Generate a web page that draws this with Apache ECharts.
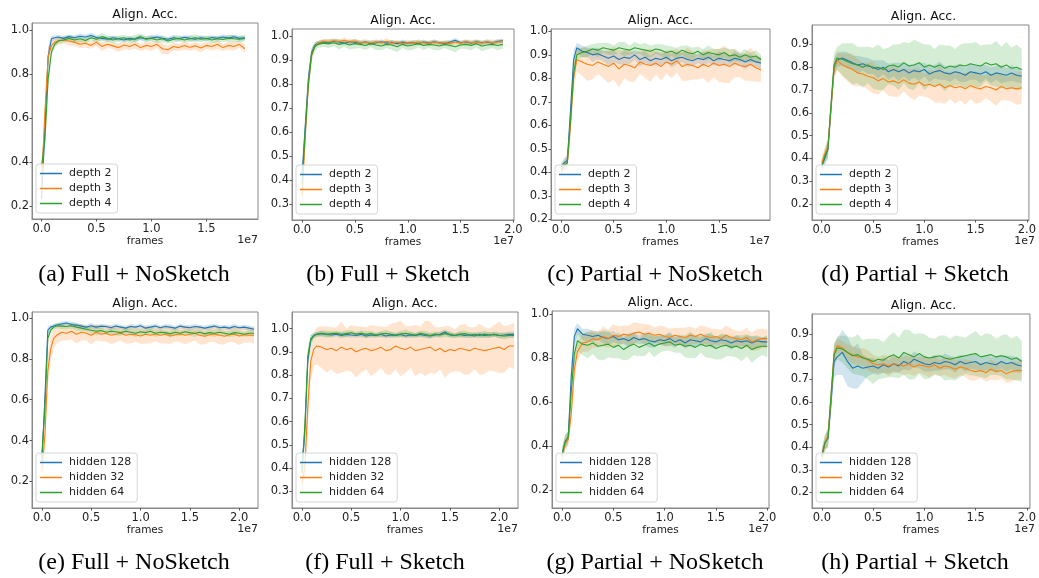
<!DOCTYPE html>
<html>
<head>
<meta charset="utf-8">
<script src="https://cdn.jsdelivr.net/npm/echarts@6/dist/echarts.min.js"></script>
<style>
  html, body { margin: 0; padding: 0; background: #fff; }
  #main { width: 1039px; height: 578px; }
</style>
</head>
<body>
<div id="main"></div>
<script>
// x positions, unit = 1e7 frames
var xs = [0, 0.03, 0.06, 0.09, 0.12, 0.15, 0.2, 0.25, 0.3, 0.35,
  0.4, 0.45, 0.5, 0.55, 0.6, 0.65, 0.7, 0.75, 0.8, 0.85,
  0.9, 0.95, 1.0, 1.05, 1.1, 1.15, 1.2, 1.25, 1.3, 1.35,
  1.4, 1.45, 1.5, 1.55, 1.6, 1.65, 1.7, 1.75, 1.8, 1.85,
  1.9, 1.95, 2.0, 2.05, 2.1, 2.15];

var depthNames = ['depth 2', 'depth 3', 'depth 4'];
var hiddenNames = ['hidden 128', 'hidden 32', 'hidden 64'];
var captions = ['(a) Full + NoSketch', '(b) Full + Sketch', '(c) Partial + NoSketch', '(d) Partial + Sketch',
  '(e) Full + NoSketch', '(f) Full + Sketch', '(g) Partial + NoSketch', '(h) Partial + Sketch'];

// tick labels
var xTicks15 = [0, 0.5, 1.0, 1.5];
var xTicks20 = [0, 0.5, 1.0, 1.5, 2.0];
var yTicksA = [0.2, 0.4, 0.6, 0.8, 1.0];
var yTicksB = [0.3, 0.4, 0.5, 0.6, 0.7, 0.8, 0.9, 1.0];
var yTicksC = [0.2, 0.3, 0.4, 0.5, 0.6, 0.7, 0.8, 0.9, 1.0];
var yTicksD = [0.2, 0.3, 0.4, 0.5, 0.6, 0.7, 0.8, 0.9];

// (a) Full + NoSketch
var aDepth2 = [0.23, 0.55, 0.88, 0.96, 0.965, 0.968, 0.962, 0.97, 0.965, 0.972,
  0.968, 0.975, 0.966, 0.962, 0.958, 0.965, 0.96, 0.955, 0.962, 0.958,
  0.965, 0.96, 0.963, 0.968, 0.962, 0.958, 0.965, 0.96, 0.967, 0.962,
  0.958, 0.965, 0.96, 0.966, 0.962, 0.968, 0.964, 0.969, 0.962, 0.965];
var aDepth3 = [0.3, 0.62, 0.88, 0.93, 0.945, 0.95, 0.955, 0.95, 0.945, 0.935,
  0.94, 0.93, 0.945, 0.925, 0.935, 0.928, 0.92, 0.932, 0.925, 0.935,
  0.92, 0.93, 0.925, 0.935, 0.915, 0.91, 0.925, 0.92, 0.93, 0.922,
  0.928, 0.918, 0.93, 0.925, 0.935, 0.92, 0.93, 0.925, 0.935, 0.915];
var aDepth4 = [0.38, 0.5, 0.78, 0.9, 0.935, 0.95, 0.955, 0.962, 0.955, 0.96,
  0.952, 0.965, 0.958, 0.97, 0.962, 0.955, 0.96, 0.965, 0.955, 0.96,
  0.97, 0.958, 0.963, 0.955, 0.96, 0.95, 0.958, 0.962, 0.955, 0.96,
  0.965, 0.958, 0.962, 0.955, 0.96, 0.957, 0.963, 0.96, 0.958, 0.962];
var aDepth2Sd = [0.02, 0.05, 0.04, 0.015, 0.01, 0.01, 0.012, 0.01, 0.011, 0.012,
  0.01, 0.013, 0.01, 0.011, 0.012, 0.01, 0.01, 0.012, 0.011, 0.01,
  0.012, 0.01, 0.011, 0.012, 0.01, 0.01, 0.012, 0.011, 0.01, 0.012,
  0.01, 0.011, 0.012, 0.01, 0.01, 0.012, 0.011, 0.01, 0.012, 0.01];
var aDepth3Sd = [0.03, 0.06, 0.04, 0.02, 0.015, 0.018, 0.015, 0.02, 0.016, 0.018,
  0.02, 0.015, 0.018, 0.02, 0.016, 0.015, 0.02, 0.018, 0.016, 0.02,
  0.015, 0.018, 0.02, 0.016, 0.025, 0.02, 0.018, 0.015, 0.02, 0.016,
  0.018, 0.02, 0.015, 0.018, 0.02, 0.016, 0.018, 0.02, 0.015, 0.02];
var aDepth4Sd = [0.03, 0.06, 0.05, 0.02, 0.015, 0.014, 0.012, 0.015, 0.016, 0.014,
  0.012, 0.015, 0.014, 0.016, 0.012, 0.015, 0.014, 0.012, 0.015, 0.016,
  0.014, 0.012, 0.015, 0.014, 0.016, 0.012, 0.015, 0.014, 0.012, 0.015,
  0.016, 0.014, 0.012, 0.015, 0.014, 0.012, 0.015, 0.016, 0.014, 0.015];

// (b) Full + Sketch
var bDepth2 = [0.42, 0.62, 0.82, 0.93, 0.96, 0.97, 0.975, 0.972, 0.978, 0.975,
  0.97, 0.976, 0.974, 0.97, 0.975, 0.968, 0.972, 0.976, 0.97, 0.974,
  0.968, 0.975, 0.97, 0.973, 0.968, 0.975, 0.97, 0.976, 0.972, 0.968,
  0.975, 0.982, 0.972, 0.975, 0.97, 0.976, 0.972, 0.975, 0.97, 0.978,
  0.98];
var bDepth3 = [0.33, 0.58, 0.8, 0.92, 0.955, 0.97, 0.978, 0.975, 0.98, 0.976,
  0.982, 0.975, 0.978, 0.972, 0.975, 0.97, 0.976, 0.972, 0.978, 0.97,
  0.975, 0.968, 0.972, 0.97, 0.975, 0.972, 0.968, 0.975, 0.97, 0.972,
  0.968, 0.975, 0.97, 0.976, 0.972, 0.975, 0.97, 0.976, 0.972, 0.975,
  0.976];
var bDepth4 = [0.38, 0.6, 0.8, 0.92, 0.955, 0.965, 0.97, 0.968, 0.972, 0.965,
  0.97, 0.962, 0.968, 0.965, 0.96, 0.968, 0.962, 0.958, 0.965, 0.962,
  0.955, 0.965, 0.958, 0.962, 0.968, 0.96, 0.965, 0.962, 0.958, 0.965,
  0.96, 0.955, 0.962, 0.965, 0.96, 0.968, 0.958, 0.962, 0.965, 0.96,
  0.965];
var bDepth2Sd = [0.04, 0.05, 0.04, 0.02, 0.01, 0.008, 0.008, 0.009, 0.008, 0.01,
  0.008, 0.009, 0.008, 0.01, 0.008, 0.009, 0.008, 0.01, 0.008, 0.009,
  0.008, 0.01, 0.008, 0.009, 0.008, 0.01, 0.008, 0.009, 0.008, 0.01,
  0.008, 0.009, 0.008, 0.01, 0.008, 0.009, 0.008, 0.01, 0.008, 0.009,
  0.008];
var bDepth3Sd = [0.04, 0.05, 0.04, 0.02, 0.01, 0.009, 0.01, 0.012, 0.01, 0.009,
  0.012, 0.01, 0.009, 0.01, 0.012, 0.009, 0.01, 0.009, 0.012, 0.01,
  0.009, 0.01, 0.012, 0.009, 0.01, 0.009, 0.012, 0.01, 0.009, 0.01,
  0.012, 0.009, 0.01, 0.009, 0.012, 0.01, 0.009, 0.01, 0.012, 0.009,
  0.01];
var bDepth4Sd = [0.05, 0.06, 0.05, 0.03, 0.02, 0.015, 0.015, 0.018, 0.015, 0.02,
  0.015, 0.018, 0.02, 0.015, 0.018, 0.015, 0.02, 0.018, 0.015, 0.02,
  0.022, 0.015, 0.018, 0.02, 0.015, 0.018, 0.015, 0.02, 0.018, 0.015,
  0.02, 0.022, 0.015, 0.018, 0.02, 0.015, 0.022, 0.018, 0.015, 0.02,
  0.018];

// (c) Partial + NoSketch
var cDepth2 = [0.42, 0.44, 0.45, 0.66, 0.88, 0.93, 0.915, 0.91, 0.9, 0.905,
  0.895, 0.885, 0.895, 0.88, 0.89, 0.885, 0.9, 0.88, 0.89, 0.875,
  0.885, 0.88, 0.89, 0.875, 0.885, 0.89, 0.88, 0.875, 0.885, 0.88,
  0.89, 0.875, 0.885, 0.88, 0.875, 0.885, 0.88, 0.87, 0.88, 0.87,
  0.865];
var cDepth3 = [0.41, 0.43, 0.44, 0.6, 0.8, 0.88, 0.87, 0.86, 0.855, 0.87,
  0.86, 0.85, 0.865, 0.84, 0.86, 0.855, 0.845, 0.87, 0.86, 0.855,
  0.865, 0.85, 0.87, 0.86, 0.875, 0.85, 0.86, 0.855, 0.845, 0.86,
  0.85, 0.865, 0.855, 0.86, 0.85, 0.865, 0.855, 0.85, 0.86, 0.845,
  0.835];
var cDepth4 = [0.41, 0.43, 0.44, 0.62, 0.82, 0.9, 0.91, 0.915, 0.925, 0.92,
  0.93, 0.925, 0.92, 0.93, 0.925, 0.92, 0.93, 0.925, 0.92, 0.915,
  0.925, 0.92, 0.91, 0.915, 0.905, 0.92, 0.91, 0.905, 0.915, 0.9,
  0.91, 0.905, 0.9, 0.91, 0.895, 0.9, 0.89, 0.9, 0.89, 0.895,
  0.88];
var cDepth2Sd = [0.02, 0.02, 0.03, 0.05, 0.04, 0.02, 0.025, 0.02, 0.03, 0.025,
  0.02, 0.03, 0.025, 0.02, 0.03, 0.025, 0.02, 0.03, 0.025, 0.02,
  0.03, 0.025, 0.02, 0.03, 0.025, 0.02, 0.03, 0.025, 0.02, 0.03,
  0.025, 0.02, 0.03, 0.025, 0.02, 0.03, 0.025, 0.03, 0.025, 0.02,
  0.025];
var cDepth3Sd = [0.02, 0.02, 0.03, 0.06, 0.06, 0.05, 0.06, 0.07, 0.06, 0.05,
  0.06, 0.07, 0.07, 0.08, 0.06, 0.07, 0.06, 0.05, 0.06, 0.07,
  0.05, 0.06, 0.05, 0.06, 0.05, 0.06, 0.07, 0.06, 0.05, 0.06,
  0.07, 0.06, 0.07, 0.08, 0.07, 0.06, 0.05, 0.06, 0.07, 0.06,
  0.05];
var cDepth4Sd = [0.02, 0.02, 0.03, 0.05, 0.04, 0.02, 0.02, 0.025, 0.02, 0.03,
  0.02, 0.025, 0.02, 0.025, 0.03, 0.02, 0.025, 0.02, 0.03, 0.025,
  0.02, 0.025, 0.03, 0.02, 0.025, 0.02, 0.03, 0.025, 0.02, 0.025,
  0.03, 0.02, 0.025, 0.02, 0.03, 0.025, 0.02, 0.025, 0.02, 0.025,
  0.02];

// (d) Partial + Sketch
var dDepth2 = [0.37, 0.4, 0.44, 0.62, 0.8, 0.83, 0.84, 0.83, 0.82, 0.81,
  0.815, 0.805, 0.8, 0.79, 0.8, 0.78, 0.79, 0.78, 0.79, 0.775,
  0.785, 0.78, 0.79, 0.77, 0.78, 0.785, 0.775, 0.77, 0.78, 0.775,
  0.765, 0.78, 0.775, 0.77, 0.78, 0.765, 0.775, 0.77, 0.765, 0.775,
  0.765, 0.76];
var dDepth3 = [0.38, 0.42, 0.45, 0.62, 0.79, 0.83, 0.81, 0.8, 0.79, 0.775,
  0.77, 0.76, 0.755, 0.74, 0.75, 0.735, 0.74, 0.73, 0.745, 0.73,
  0.725, 0.735, 0.72, 0.725, 0.715, 0.725, 0.71, 0.72, 0.71, 0.715,
  0.705, 0.72, 0.71, 0.705, 0.715, 0.71, 0.7, 0.715, 0.705, 0.71,
  0.705, 0.71];
var dDepth4 = [0.36, 0.41, 0.44, 0.63, 0.81, 0.84, 0.835, 0.825, 0.815, 0.81,
  0.8, 0.81, 0.795, 0.8, 0.79, 0.805, 0.81, 0.8, 0.82, 0.805,
  0.81, 0.82, 0.8, 0.81, 0.8, 0.81, 0.795, 0.805, 0.8, 0.81,
  0.805, 0.815, 0.81, 0.805, 0.82, 0.81, 0.815, 0.8, 0.81, 0.795,
  0.8, 0.79];
var dDepth2Sd = [0.02, 0.03, 0.04, 0.05, 0.04, 0.03, 0.03, 0.035, 0.03, 0.04,
  0.03, 0.035, 0.03, 0.04, 0.03, 0.035, 0.03, 0.04, 0.03, 0.035,
  0.03, 0.04, 0.03, 0.035, 0.03, 0.04, 0.03, 0.035, 0.03, 0.04,
  0.03, 0.035, 0.03, 0.04, 0.03, 0.035, 0.03, 0.04, 0.03, 0.035,
  0.03, 0.03];
var dDepth3Sd = [0.03, 0.03, 0.04, 0.05, 0.05, 0.04, 0.05, 0.06, 0.07, 0.06,
  0.05, 0.06, 0.07, 0.06, 0.05, 0.06, 0.07, 0.06, 0.05, 0.06,
  0.07, 0.06, 0.05, 0.06, 0.07, 0.08, 0.07, 0.06, 0.07, 0.06,
  0.07, 0.06, 0.07, 0.06, 0.05, 0.06, 0.07, 0.06, 0.05, 0.06,
  0.07, 0.07];
var dDepth4Sd = [0.03, 0.03, 0.04, 0.05, 0.05, 0.05, 0.07, 0.08, 0.09, 0.08,
  0.09, 0.08, 0.09, 0.1, 0.09, 0.08, 0.09, 0.1, 0.09, 0.1,
  0.11, 0.09, 0.1, 0.09, 0.08, 0.09, 0.1, 0.09, 0.08, 0.09,
  0.1, 0.09, 0.1, 0.09, 0.08, 0.09, 0.1, 0.09, 0.1, 0.09,
  0.1, 0.09];

// (e) Full + NoSketch
var eHid128 = [0.3, 0.6, 0.94, 0.955, 0.96, 0.965, 0.97, 0.975, 0.968, 0.965,
  0.96, 0.955, 0.962, 0.955, 0.96, 0.958, 0.952, 0.96, 0.955, 0.95,
  0.958, 0.955, 0.962, 0.95, 0.955, 0.96, 0.952, 0.958, 0.955, 0.95,
  0.96, 0.955, 0.952, 0.958, 0.955, 0.95, 0.955, 0.96, 0.952, 0.955,
  0.95, 0.958, 0.952, 0.955, 0.95, 0.945];
var eHid32 = [0.25, 0.42, 0.74, 0.85, 0.9, 0.915, 0.93, 0.925, 0.935, 0.92,
  0.93, 0.925, 0.915, 0.93, 0.92, 0.925, 0.915, 0.92, 0.925, 0.915,
  0.92, 0.918, 0.912, 0.92, 0.915, 0.922, 0.915, 0.92, 0.912, 0.918,
  0.922, 0.915, 0.92, 0.925, 0.915, 0.91, 0.918, 0.922, 0.915, 0.91,
  0.918, 0.92, 0.912, 0.918, 0.915, 0.915];
var eHid64 = [0.33, 0.55, 0.9, 0.94, 0.955, 0.962, 0.96, 0.958, 0.962, 0.955,
  0.95, 0.945, 0.94, 0.935, 0.938, 0.93, 0.935, 0.932, 0.928, 0.935,
  0.93, 0.925, 0.932, 0.928, 0.935, 0.925, 0.93, 0.928, 0.922, 0.93,
  0.925, 0.932, 0.928, 0.925, 0.93, 0.922, 0.928, 0.925, 0.93, 0.925,
  0.92, 0.928, 0.925, 0.92, 0.925, 0.925];
var eHid128Sd = [0.04, 0.05, 0.02, 0.012, 0.012, 0.01, 0.012, 0.01, 0.013, 0.012,
  0.01, 0.012, 0.013, 0.01, 0.012, 0.01, 0.013, 0.012, 0.01, 0.012,
  0.013, 0.01, 0.012, 0.01, 0.013, 0.012, 0.01, 0.012, 0.013, 0.01,
  0.012, 0.01, 0.013, 0.012, 0.01, 0.012, 0.013, 0.01, 0.012, 0.01,
  0.013, 0.012, 0.01, 0.012, 0.013, 0.012];
var eHid32Sd = [0.04, 0.06, 0.08, 0.06, 0.05, 0.04, 0.04, 0.035, 0.04, 0.045,
  0.04, 0.035, 0.045, 0.04, 0.035, 0.04, 0.045, 0.04, 0.035, 0.04,
  0.045, 0.035, 0.04, 0.045, 0.04, 0.035, 0.04, 0.045, 0.04, 0.035,
  0.04, 0.045, 0.04, 0.035, 0.045, 0.04, 0.035, 0.04, 0.045, 0.04,
  0.035, 0.04, 0.045, 0.04, 0.035, 0.04];
var eHid64Sd = [0.04, 0.05, 0.03, 0.015, 0.012, 0.012, 0.015, 0.012, 0.015, 0.018,
  0.015, 0.012, 0.015, 0.018, 0.015, 0.012, 0.015, 0.018, 0.015, 0.012,
  0.015, 0.018, 0.015, 0.012, 0.015, 0.018, 0.015, 0.012, 0.015, 0.018,
  0.015, 0.012, 0.015, 0.018, 0.015, 0.012, 0.015, 0.018, 0.015, 0.012,
  0.015, 0.018, 0.015, 0.012, 0.015, 0.015];

// (f) Full + Sketch
var fHid128 = [0.4, 0.55, 0.86, 0.95, 0.97, 0.975, 0.978, 0.975, 0.972, 0.976,
  0.97, 0.975, 0.972, 0.97, 0.975, 0.968, 0.972, 0.97, 0.975, 0.968,
  0.972, 0.97, 0.974, 0.968, 0.972, 0.97, 0.975, 0.97, 0.968, 0.972,
  0.975, 0.985, 0.972, 0.97, 0.975, 0.97, 0.972, 0.968, 0.975, 0.97,
  0.972, 0.975, 0.97, 0.972, 0.975, 0.975];
var fHid32 = [0.33, 0.4, 0.66, 0.86, 0.91, 0.925, 0.92, 0.91, 0.915, 0.905,
  0.92, 0.91, 0.915, 0.9, 0.91, 0.915, 0.905, 0.91, 0.92, 0.905,
  0.91, 0.925, 0.915, 0.91, 0.92, 0.905, 0.91, 0.915, 0.92, 0.905,
  0.915, 0.9, 0.91, 0.905, 0.915, 0.91, 0.905, 0.915, 0.91, 0.905,
  0.91, 0.915, 0.92, 0.91, 0.925, 0.925];
var fHid64 = [0.38, 0.58, 0.88, 0.955, 0.968, 0.975, 0.98, 0.975, 0.978, 0.98,
  0.975, 0.978, 0.982, 0.976, 0.98, 0.975, 0.978, 0.972, 0.976, 0.98,
  0.975, 0.972, 0.976, 0.98, 0.975, 0.972, 0.978, 0.975, 0.97, 0.976,
  0.972, 0.978, 0.975, 0.97, 0.975, 0.978, 0.972, 0.975, 0.97, 0.976,
  0.972, 0.975, 0.97, 0.968, 0.97, 0.97];
var fHid128Sd = [0.05, 0.05, 0.04, 0.02, 0.012, 0.01, 0.012, 0.01, 0.012, 0.01,
  0.012, 0.01, 0.012, 0.01, 0.012, 0.01, 0.012, 0.01, 0.012, 0.01,
  0.012, 0.01, 0.012, 0.01, 0.012, 0.01, 0.012, 0.01, 0.012, 0.01,
  0.012, 0.01, 0.012, 0.01, 0.012, 0.01, 0.012, 0.01, 0.012, 0.01,
  0.012, 0.01, 0.012, 0.01, 0.012, 0.012];
var fHid32Sd = [0.04, 0.06, 0.08, 0.08, 0.07, 0.08, 0.09, 0.1, 0.09, 0.1,
  0.11, 0.09, 0.1, 0.11, 0.1, 0.09, 0.11, 0.1, 0.09, 0.1,
  0.11, 0.1, 0.12, 0.1, 0.09, 0.11, 0.1, 0.12, 0.11, 0.1,
  0.09, 0.11, 0.1, 0.09, 0.1, 0.11, 0.1, 0.09, 0.11, 0.1,
  0.09, 0.1, 0.11, 0.1, 0.09, 0.1];
var fHid64Sd = [0.05, 0.05, 0.04, 0.02, 0.012, 0.01, 0.012, 0.015, 0.012, 0.01,
  0.012, 0.015, 0.012, 0.01, 0.012, 0.015, 0.012, 0.01, 0.012, 0.015,
  0.012, 0.01, 0.012, 0.015, 0.012, 0.01, 0.012, 0.015, 0.012, 0.01,
  0.012, 0.015, 0.012, 0.01, 0.012, 0.015, 0.012, 0.01, 0.012, 0.015,
  0.012, 0.01, 0.012, 0.015, 0.012, 0.012];

// (g) Partial + NoSketch
var gHid128 = [0.36, 0.42, 0.44, 0.72, 0.9, 0.935, 0.91, 0.905, 0.9, 0.905,
  0.895, 0.89, 0.9, 0.885, 0.89, 0.88, 0.895, 0.885, 0.89, 0.88,
  0.875, 0.885, 0.88, 0.89, 0.875, 0.885, 0.87, 0.885, 0.88, 0.875,
  0.89, 0.88, 0.875, 0.885, 0.88, 0.87, 0.88, 0.875, 0.88, 0.87,
  0.88, 0.875, 0.875];
var gHid32 = [0.35, 0.41, 0.43, 0.55, 0.75, 0.83, 0.87, 0.875, 0.89, 0.885,
  0.9, 0.89, 0.905, 0.9, 0.91, 0.905, 0.915, 0.92, 0.91, 0.915,
  0.905, 0.91, 0.9, 0.895, 0.905, 0.9, 0.895, 0.905, 0.9, 0.91,
  0.9, 0.895, 0.9, 0.89, 0.905, 0.895, 0.89, 0.885, 0.895, 0.875,
  0.885, 0.89, 0.89];
var gHid64 = [0.36, 0.42, 0.44, 0.65, 0.82, 0.88, 0.865, 0.86, 0.87, 0.855,
  0.86, 0.865, 0.85, 0.86, 0.84, 0.855, 0.865, 0.85, 0.86, 0.87,
  0.855, 0.865, 0.87, 0.875, 0.86, 0.865, 0.855, 0.86, 0.85, 0.865,
  0.855, 0.86, 0.845, 0.855, 0.86, 0.85, 0.855, 0.845, 0.86, 0.84,
  0.85, 0.855, 0.855];
var gHid128Sd = [0.03, 0.03, 0.03, 0.06, 0.04, 0.025, 0.025, 0.03, 0.025, 0.02,
  0.025, 0.03, 0.025, 0.02, 0.025, 0.03, 0.025, 0.02, 0.025, 0.03,
  0.025, 0.02, 0.025, 0.03, 0.025, 0.02, 0.025, 0.03, 0.025, 0.02,
  0.025, 0.03, 0.025, 0.02, 0.025, 0.03, 0.025, 0.02, 0.025, 0.03,
  0.025, 0.02, 0.025];
var gHid32Sd = [0.03, 0.03, 0.03, 0.05, 0.05, 0.04, 0.04, 0.045, 0.04, 0.035,
  0.045, 0.04, 0.05, 0.045, 0.04, 0.045, 0.05, 0.04, 0.045, 0.04,
  0.035, 0.04, 0.045, 0.04, 0.035, 0.04, 0.045, 0.04, 0.035, 0.04,
  0.045, 0.04, 0.035, 0.04, 0.045, 0.04, 0.035, 0.04, 0.045, 0.04,
  0.05, 0.045, 0.04];
var gHid64Sd = [0.03, 0.03, 0.03, 0.05, 0.05, 0.05, 0.05, 0.06, 0.05, 0.06,
  0.07, 0.06, 0.05, 0.06, 0.05, 0.06, 0.05, 0.04, 0.05, 0.04,
  0.05, 0.04, 0.035, 0.04, 0.035, 0.04, 0.05, 0.06, 0.05, 0.04,
  0.05, 0.06, 0.05, 0.06, 0.05, 0.04, 0.05, 0.06, 0.05, 0.06,
  0.05, 0.04, 0.05];

// (h) Partial + Sketch
var hHid128 = [0.36, 0.42, 0.44, 0.6, 0.78, 0.8, 0.82, 0.78, 0.75, 0.76,
  0.75, 0.755, 0.76, 0.75, 0.765, 0.755, 0.77, 0.76, 0.78, 0.77,
  0.79, 0.78, 0.77, 0.765, 0.775, 0.77, 0.78, 0.775, 0.765, 0.78,
  0.77, 0.775, 0.78, 0.765, 0.775, 0.77, 0.765, 0.78, 0.77, 0.775,
  0.765, 0.76];
var hHid32 = [0.36, 0.42, 0.45, 0.62, 0.82, 0.85, 0.84, 0.82, 0.81, 0.8,
  0.8, 0.785, 0.77, 0.765, 0.77, 0.76, 0.77, 0.765, 0.76, 0.77,
  0.755, 0.765, 0.76, 0.755, 0.765, 0.75, 0.76, 0.755, 0.745, 0.755,
  0.75, 0.74, 0.735, 0.74, 0.73, 0.745, 0.735, 0.74, 0.725, 0.735,
  0.74, 0.74];
var hHid64 = [0.36, 0.42, 0.44, 0.63, 0.81, 0.84, 0.835, 0.82, 0.805, 0.81,
  0.795, 0.79, 0.78, 0.79, 0.785, 0.8, 0.81, 0.795, 0.82, 0.81,
  0.8, 0.815, 0.8, 0.795, 0.8, 0.805, 0.795, 0.79, 0.795, 0.8,
  0.805, 0.81, 0.815, 0.8, 0.805, 0.81, 0.8, 0.805, 0.8, 0.79,
  0.795, 0.78];
var hHid128Sd = [0.03, 0.03, 0.04, 0.06, 0.07, 0.08, 0.1, 0.11, 0.09, 0.1,
  0.06, 0.04, 0.035, 0.03, 0.035, 0.03, 0.035, 0.03, 0.035, 0.03,
  0.035, 0.03, 0.035, 0.03, 0.035, 0.03, 0.035, 0.03, 0.035, 0.03,
  0.035, 0.03, 0.035, 0.03, 0.035, 0.03, 0.035, 0.03, 0.035, 0.03,
  0.035, 0.03];
var hHid32Sd = [0.03, 0.04, 0.04, 0.05, 0.04, 0.03, 0.03, 0.035, 0.04, 0.035,
  0.04, 0.045, 0.04, 0.035, 0.04, 0.045, 0.04, 0.035, 0.04, 0.045,
  0.04, 0.035, 0.04, 0.045, 0.04, 0.035, 0.04, 0.045, 0.04, 0.035,
  0.04, 0.045, 0.04, 0.035, 0.04, 0.045, 0.04, 0.035, 0.04, 0.045,
  0.04, 0.04];
var hHid64Sd = [0.03, 0.03, 0.04, 0.05, 0.05, 0.05, 0.06, 0.07, 0.08, 0.09,
  0.08, 0.09, 0.1, 0.09, 0.08, 0.09, 0.1, 0.09, 0.1, 0.11,
  0.1, 0.09, 0.1, 0.09, 0.08, 0.09, 0.1, 0.09, 0.1, 0.09,
  0.08, 0.09, 0.1, 0.09, 0.1, 0.09, 0.08, 0.09, 0.1, 0.09,
  0.1, 0.09];

var lineColors = ['#1f77b4', '#ff7f0e', '#2ca02c'];
var bandColors = ['rgba(31,119,180,0.2)', 'rgba(255,127,14,0.2)', 'rgba(44,160,44,0.2)'];

// panel layout
var panels = [
  { left: 32, top: 23, width: 226, height: 196, x: [-0.087, 1.97], y: [0.14, 1.032], xt: xTicks15, yt: yTicksA,
    names: depthNames, lines: [aDepth2, aDepth3, aDepth4], sds: [aDepth2Sd, aDepth3Sd, aDepth4Sd], capX: 134, capY: 275 },
  { left: 292, top: 29, width: 222, height: 191, x: [-0.095, 2.005], y: [0.233, 1.029], xt: xTicks20, yt: yTicksB,
    names: depthNames, lines: [bDepth2, bDepth3, bDepth4], sds: [bDepth2Sd, bDepth3Sd, bDepth4Sd], capX: 388, capY: 275 },
  { left: 551, top: 29, width: 219, height: 191, x: [-0.095, 1.985], y: [0.197, 1.01], xt: xTicks20, yt: yTicksC,
    names: depthNames, lines: [cDepth2, cDepth3, cDepth4], sds: [cDepth2Sd, cDepth3Sd, cDepth4Sd], capX: 655, capY: 275 },
  { left: 812, top: 25, width: 223, height: 195, x: [-0.095, 2.02], y: [0.13, 0.985], xt: xTicks20, yt: yTicksD,
    names: depthNames, lines: [dDepth2, dDepth3, dDepth4], sds: [dDepth2Sd, dDepth3Sd, dDepth4Sd], capX: 915, capY: 275 },
  { left: 32, top: 312, width: 226, height: 196, x: [-0.1, 2.19], y: [0.07, 1.029], xt: xTicks20, yt: yTicksA,
    names: hiddenNames, lines: [eHid128, eHid32, eHid64], sds: [eHid128Sd, eHid32Sd, eHid64Sd], capX: 134, capY: 563 },
  { left: 292, top: 312, width: 226, height: 196, x: [-0.1, 2.19], y: [0.229, 1.071], xt: xTicks20, yt: yTicksB,
    names: hiddenNames, lines: [fHid128, fHid32, fHid64], sds: [fHid128Sd, fHid32Sd, fHid64Sd], capX: 385, capY: 563 },
  { left: 552, top: 311, width: 217, height: 197, x: [-0.098, 2.017], y: [0.117, 1.016], xt: xTicks20, yt: yTicksA,
    names: hiddenNames, lines: [gHid128, gHid32, gHid64], sds: [gHid128Sd, gHid32Sd, gHid64Sd], capX: 655, capY: 563 },
  { left: 812, top: 314, width: 223, height: 194, x: [-0.096, 2.03], y: [0.131, 0.99], xt: xTicks20, yt: yTicksD,
    names: hiddenNames, lines: [hHid128, hHid32, hHid64], sds: [hHid128Sd, hHid32Sd, hHid64Sd], capX: 915, capY: 563 }
];

var FONT = '"DejaVu Sans", sans-serif';
var grids = [], xAxes = [], yAxes = [], series = [], legends = [], graphics = [];

function bandSeries(gi, mean, sd, color) {
  return {
    type: 'custom', xAxisIndex: gi, yAxisIndex: gi, z: 1, silent: true, clip: true,
    encode: { x: 0, y: 1 },
    data: mean.map(function (v, j) { return [xs[j], v]; }),
    renderItem: function (params, api) {
      if (params.dataIndex !== 0) return null;
      var up = [], dn = [];
      for (var j = 0; j < mean.length; j++) {
        var s = sd[j] !== undefined ? sd[j] : sd[sd.length - 1];
        up.push(api.coord([xs[j], mean[j] + s]));
        dn.unshift(api.coord([xs[j], mean[j] - s]));
      }
      return { type: 'polygon', shape: { points: up.concat(dn) }, style: { fill: color, stroke: null } };
    }
  };
}

panels.forEach(function (p, gi) {
  grids.push({ left: p.left, top: p.top, width: p.width, height: p.height, show: true,
    borderColor: '#888', borderWidth: 1, backgroundColor: 'transparent' });
  xAxes.push({
    gridIndex: gi, type: 'value', min: p.x[0], max: p.x[1],
    name: 'frames', nameLocation: 'middle', nameGap: 15,
    nameTextStyle: { fontFamily: FONT, fontSize: 10.5, color: '#222' },
    axisLine: { show: true, onZero: false, lineStyle: { color: '#888' } },
    axisTick: { show: true, customValues: p.xt, length: 2.5, lineStyle: { color: '#555' } },
    axisLabel: { customValues: p.xt, margin: 4, fontFamily: FONT, fontSize: 11.5, color: '#222',
      formatter: function (v) { return v.toFixed(1); } },
    splitLine: { show: false }
  });
  yAxes.push({
    gridIndex: gi, type: 'value', min: p.y[0], max: p.y[1],
    axisLine: { show: true, onZero: false, lineStyle: { color: '#888' } },
    axisTick: { show: true, customValues: p.yt, length: 2.5, lineStyle: { color: '#555' } },
    axisLabel: { customValues: p.yt, margin: 3, fontFamily: FONT, fontSize: 11.5, color: '#222',
      formatter: function (v) { return v.toFixed(1); } },
    splitLine: { show: false }
  });
  for (var k = 0; k < 3; k++) {
    series.push(bandSeries(gi, p.lines[k], p.sds[k], bandColors[k]));
  }
  for (var k2 = 0; k2 < 3; k2++) {
    series.push({
      type: 'line', name: p.names[k2], xAxisIndex: gi, yAxisIndex: gi, z: 2,
      showSymbol: false, symbol: 'none', color: lineColors[k2],
      itemStyle: { color: lineColors[k2] },
      lineStyle: { width: 1.1, color: lineColors[k2] },
      data: p.lines[k2].map(function (v, j) { return [xs[j], v]; })
    });
  }
  legends.push({
    left: p.left + 4, top: p.top + p.height - 55, orient: 'vertical',
    data: p.names, icon: 'rect', itemWidth: 22, itemHeight: 1.5, itemGap: 4,
    padding: [4, 6, 4, 4], borderColor: '#d6d6d6', borderWidth: 1, borderRadius: 3,
    backgroundColor: 'rgba(255,255,255,0.8)', selectedMode: false,
    textStyle: { fontFamily: FONT, fontSize: 11, color: '#222', padding: [0, 0, 0, 2] }
  });
  graphics.push({ type: 'text', x: p.left + p.width / 2, y: p.top - 8,
    style: { text: 'Align. Acc.', font: '12.5px ' + FONT, fill: '#111',
      textAlign: 'center', textVerticalAlign: 'middle', align: 'center', verticalAlign: 'middle' } });
  graphics.push({ type: 'text', x: p.left + p.width, y: p.top + p.height + 21,
    style: { text: '1e7', font: '11px ' + FONT, fill: '#222',
      textAlign: 'right', textVerticalAlign: 'middle', align: 'right', verticalAlign: 'middle' } });
  graphics.push({ type: 'text', x: p.capX, y: p.capY,
    style: { text: captions[gi], font: '24px "Liberation Serif", "Times New Roman", serif', fill: '#000',
      textAlign: 'center', textVerticalAlign: 'middle', align: 'center', verticalAlign: 'middle' } });
});

var myChart = echarts.init(document.getElementById('main'), null, { renderer: 'canvas' });
var option = {
  animation: false,
  backgroundColor: '#fff',
  color: lineColors,
  grid: grids,
  xAxis: xAxes,
  yAxis: yAxes,
  legend: legends,
  graphic: graphics,
  series: series
};
option && myChart.setOption(option);
</script>
</body>
</html>
